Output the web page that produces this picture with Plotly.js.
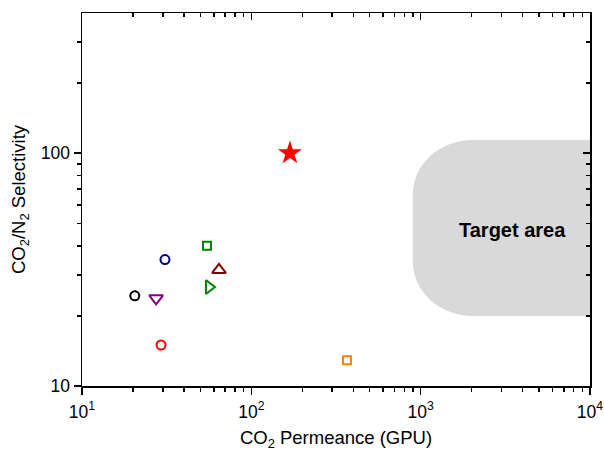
<!DOCTYPE html>
<html>
<head>
<meta charset="utf-8">
<script src="https://cdn.plot.ly/plotly-3.0.1.min.js"></script>
<style>html,body{margin:0;padding:0;background:#fff;}#chart{width:604px;height:452px;}</style>
</head>
<body>
<div id="chart"></div>
<script>
// ---- data ----
var membranes   = ['A', 'B', 'C', 'D', 'E', 'F', 'G', 'H', 'This work'];
var permeance   = [20.5, 30.9, 27.4, 29.3, 54.7, 64.4, 56.2, 367, 169];   // GPU
var selectivity = [24.4, 34.9, 23.8, 15.0, 40.0, 31.5, 26.6, 12.9, 100]; // CO2/N2
var targetPermeance   = [900, 10000];
var targetSelectivity = [20, 114];
var xTickVals = [10, 100, 1000, 10000];
var xTickText = ['10<sup>1</sup>', '10<sup>2</sup>', '10<sup>3</sup>', '10<sup>4</sup>'];
var yTickVals = [10, 100];
var yTickText = ['10', '100'];
var xMinorVals = [20,30,40,50,60,70,80,90,200,300,400,500,600,700,800,900,2000,3000,4000,5000,6000,7000,8000,9000];
var yMinorVals = [20,30,40,50,60,70,80,90,200,300];

// ---- styles ----
var styles = [
  {symbol:'circle-open', color:'#000000', size:9},
  {symbol:'circle-open', color:'#000080', size:9},
  {symbol:'triangle-down-open', color:'#800080', size:12},
  {symbol:'circle-open', color:'#ff0000', size:9},
  {symbol:'square-open', color:'#008000', size:8},
  {symbol:'triangle-up-open', color:'#800000', size:12},
  {symbol:'triangle-right-open', color:'#008000', size:12},
  {symbol:'square-open', color:'#ff8000', size:8},
  {symbol:'star', color:'#ff0000', size:18}
];

var xRange = [Math.log10(10), Math.log10(10000)];
var yRange = [Math.log10(10), Math.log10(400)];

var traces = membranes.map(function(n, i){
  var s = styles[i];
  var filled = s.symbol.indexOf('open') < 0;
  return {
    type:'scatter', mode:'markers', name:n,
    x:[permeance[i]], y:[selectivity[i]],
    marker:{symbol:s.symbol, size:s.size, color:s.color,
            line:{color:s.color, width:filled ? 0 : 2}},
    hoverinfo:'x+y', showlegend:false
  };
});
// empty trace to bind the mirror (inside-tick) axes
traces.push({type:'scatter', mode:'markers', x:[], y:[], xaxis:'x2', yaxis:'y2', showlegend:false, hoverinfo:'skip'});

// target area path in paper coordinates
function px(v){ return (Math.log10(v) - xRange[0]) / (xRange[1] - xRange[0]); }
function py(v){ return (Math.log10(v) - yRange[0]) / (yRange[1] - yRange[0]); }
var plotW = 604 - 82 - 14, plotH = 452 - 13 - 66;
var xl = px(targetPermeance[0]), xr = px(targetPermeance[1]);
var yb = py(targetSelectivity[0]), yt = py(targetSelectivity[1]);
var rx = 60 / plotW, ry = 54 / plotH, k = 0.5523;
var path = 'M ' + xr + ',' + yb +
  ' L ' + (xl + rx) + ',' + yb +
  ' C ' + (xl + rx * (1 - k)) + ',' + yb + ' ' + xl + ',' + (yb + ry * (1 - k)) + ' ' + xl + ',' + (yb + ry) +
  ' L ' + xl + ',' + (yt - ry) +
  ' C ' + xl + ',' + (yt - ry * (1 - k)) + ' ' + (xl + rx * (1 - k)) + ',' + yt + ' ' + (xl + rx) + ',' + yt +
  ' L ' + xr + ',' + yt + ' Z';

var fam = 'Arial, "Liberation Sans", sans-serif';
var tickFont = {family:fam, size:17.5, color:'#000'};
var titleFont = {family:fam, size:18.5, color:'#000'};
var axCommon = {type:'log', showgrid:false, zeroline:false, showline:true, linecolor:'#000', linewidth:1.5,
  tickcolor:'#000', tickwidth:1.5, ticklen:7, tickfont:tickFont};

var layout = {
  width:604, height:452,
  margin:{l:82, r:14, t:13, b:66, pad:0},
  paper_bgcolor:'#fff', plot_bgcolor:'#fff',
  font:tickFont,
  showlegend:false,
  xaxis:Object.assign({}, axCommon, {
    range:xRange, tickmode:'array', tickvals:xTickVals, ticktext:xTickText, ticks:'outside',
    ticklabelstandoff:2,
    minor:{tickmode:'array', tickvals:xMinorVals, ticks:'outside', ticklen:4, tickwidth:1.5, tickcolor:'#000'},
    title:{text:'CO<sub>2</sub> Permeance (GPU)', font:titleFont, standoff:10}
  }),
  yaxis:Object.assign({}, axCommon, {
    range:yRange, tickmode:'array', tickvals:yTickVals, ticktext:yTickText, ticks:'outside',
    minor:{tickmode:'array', tickvals:yMinorVals, ticks:'outside', ticklen:4, tickwidth:1.5, tickcolor:'#000'},
    title:{text:'CO<sub>2</sub>/N<sub>2</sub> Selectivity', font:titleFont, standoff:10}
  }),
  xaxis2:Object.assign({}, axCommon, {
    overlaying:'x', side:'top', anchor:'y2', range:xRange, tickmode:'array', tickvals:xTickVals,
    ticks:'inside', showticklabels:false,
    minor:{tickmode:'array', tickvals:xMinorVals, ticks:'inside', ticklen:4, tickwidth:1.5, tickcolor:'#000'}
  }),
  yaxis2:Object.assign({}, axCommon, {
    overlaying:'y', side:'right', anchor:'x2', range:yRange, tickmode:'array', tickvals:yTickVals,
    ticks:'inside', showticklabels:false,
    minor:{tickmode:'array', tickvals:yMinorVals, ticks:'inside', ticklen:4, tickwidth:1.5, tickcolor:'#000'}
  }),
  shapes:[{type:'path', xref:'paper', yref:'paper', path:path, fillcolor:'#d9d9d9', line:{width:0}, layer:'below'}],
  annotations:[{xref:'x', yref:'y', x:Math.log10(3500), y:Math.log10(47), text:'<b>Target area</b>', showarrow:false,
    font:{family:fam, size:20, color:'#000'}}]
};

Plotly.newPlot('chart', traces, layout, {displayModeBar:false, staticPlot:true});
</script>
</body>
</html>
